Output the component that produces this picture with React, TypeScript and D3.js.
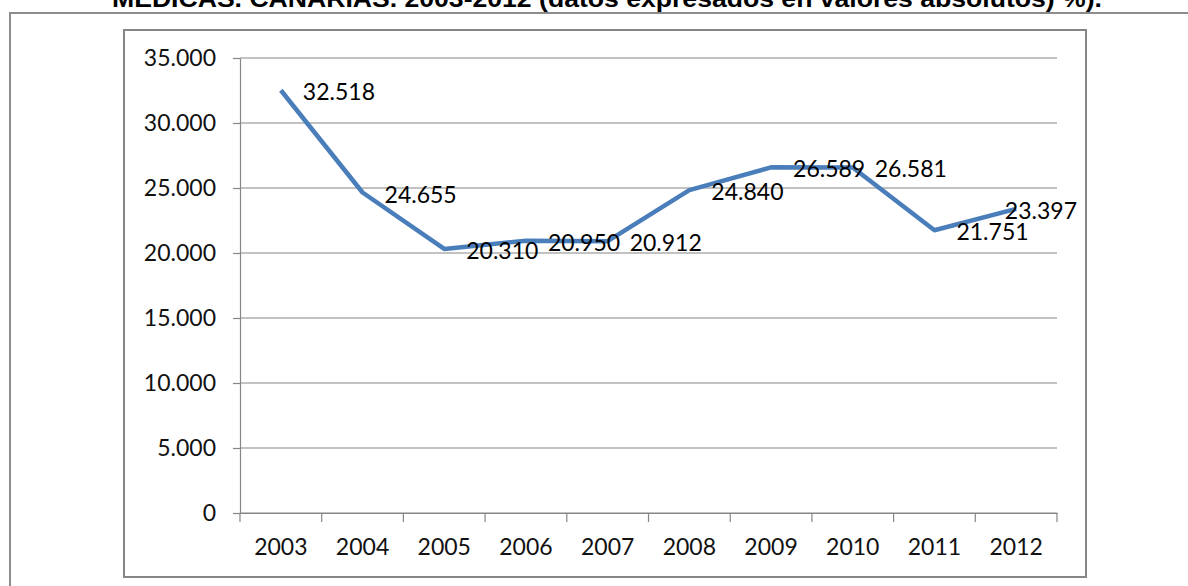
import { useRef, useEffect } from 'react';
import * as d3 from 'd3';

// values
const years = ['2003', '2004', '2005', '2006', '2007', '2008', '2009', '2010', '2011', '2012'];
const values = [32518, 24655, 20310, 20950, 20912, 24840, 26589, 26581, 21751, 23397];
const yTicks = [0, 5000, 10000, 15000, 20000, 25000, 30000, 35000];
const title = 'MEDICAS. CANARIAS. 2003-2012 (datos expresados en valores absolutos) %).';

const esFormat = d3.formatLocale({ decimal: ',', thousands: '.', grouping: [3], currency: ['', ''] }).format(',');

const App = () => {
  const svgRef = useRef<SVGSVGElement>(null);

  useEffect(() => {
    const width = 1188;
    const height = 586;
    const plot = { left: 240, right: 1057, top: 58, bottom: 513 };
    const box = { left: 124, top: 30, right: 1086, bottom: 577 };
    const labelFont = 'Lato, "Open Sans", sans-serif';

    const svg = d3.select(svgRef.current);
    svg.selectAll('*').remove();

    svg.append('rect').attr('width', width).attr('height', height).attr('fill', '#fff');

    // title, mostly cut off at the top of the picture
    svg.append('text')
      .text(title)
      .attr('x', 607)
      .attr('y', 7)
      .attr('text-anchor', 'middle')
      .attr('textLength', 990)
      .attr('lengthAdjust', 'spacingAndGlyphs')
      .attr('font-family', '"Liberation Sans", Arial, sans-serif')
      .attr('font-weight', 'bold')
      .attr('font-size', 23)
      .attr('fill', '#000');

    // outer frame
    svg.append('rect')
      .attr('x', 10).attr('y', 13)
      .attr('width', 1200).attr('height', 600)
      .attr('fill', 'none')
      .attr('stroke', '#8c8c8c')
      .attr('stroke-width', 2);

    // chart box
    svg.append('rect')
      .attr('x', box.left).attr('y', box.top)
      .attr('width', box.right - box.left).attr('height', box.bottom - box.top)
      .attr('fill', '#fff')
      .attr('stroke', '#868686')
      .attr('stroke-width', 2);

    const xScale = d3.scaleBand().domain(years).range([plot.left, plot.right]);
    const yScale = d3.scaleLinear().domain([0, 35000]).range([plot.bottom, plot.top]);

    // gridlines
    svg.append('g')
      .selectAll('line')
      .data(yTicks)
      .enter()
      .append('line')
      .attr('x1', plot.left)
      .attr('x2', plot.right)
      .attr('y1', d => yScale(d))
      .attr('y2', d => yScale(d))
      .attr('stroke', '#868686')
      .attr('stroke-width', 1.2);

    // y axis
    const yAxis = svg.append('g')
      .attr('transform', `translate(${plot.left},0)`)
      .call(d3.axisLeft(yScale).tickValues(yTicks).tickSize(7).tickSizeOuter(0).tickPadding(17).tickFormat(d => esFormat(d as number)));
    yAxis.select('.domain').attr('stroke', '#868686').attr('stroke-width', 1.2);
    yAxis.selectAll('.tick line').attr('stroke', '#868686').attr('stroke-width', 1.2);
    yAxis.selectAll('text').attr('font-family', labelFont).attr('font-size', 23).attr('fill', '#111');

    // x axis
    const xAxis = svg.append('g')
      .attr('transform', `translate(0,${plot.bottom})`)
      .call(d3.axisBottom(xScale).tickSize(0).tickSizeOuter(0).tickPadding(26));
    xAxis.select('.domain').attr('stroke', '#868686').attr('stroke-width', 1.2);
    xAxis.selectAll('text').attr('font-family', labelFont).attr('font-size', 23).attr('fill', '#111');

    // tick marks between categories
    const edges = years.map(d => xScale(d) as number).concat([plot.right]);
    svg.append('g')
      .selectAll('line')
      .data(edges)
      .enter()
      .append('line')
      .attr('x1', d => d)
      .attr('x2', d => d)
      .attr('y1', plot.bottom)
      .attr('y2', plot.bottom + 9)
      .attr('stroke', '#868686')
      .attr('stroke-width', 1.2);

    const cx = (i: number) => (xScale(years[i]) as number) + xScale.bandwidth() / 2;

    const line = d3.line<number>()
      .x((_, i) => cx(i))
      .y(d => yScale(d));

    svg.append('path')
      .datum(values)
      .attr('d', line)
      .attr('fill', 'none')
      .attr('stroke', '#4a7ebb')
      .attr('stroke-width', 4.5)
      .attr('stroke-linejoin', 'round');

    // data labels on the right of each point, kept inside the chart box
    svg.append('g')
      .selectAll('text')
      .data(values)
      .enter()
      .append('text')
      .text(d => esFormat(d))
      .attr('x', (_, i) => cx(i) + 22)
      .attr('y', d => yScale(d) + 2)
      .attr('dy', '0.35em')
      .attr('font-family', labelFont)
      .attr('font-size', 23)
      .attr('fill', '#000')
      .each(function () {
        const t = d3.select(this);
        const w = (this as SVGTextElement).getComputedTextLength();
        const x = +t.attr('x');
        if (x + w > box.right - 9) t.attr('x', box.right - 9 - w);
      });
  }, []);

  return (
    <svg
      ref={svgRef}
      width={1188}
      height={586}
      style={{ position: 'absolute', left: 0, top: 0, display: 'block' }}
    />
  );
};

export default App;
